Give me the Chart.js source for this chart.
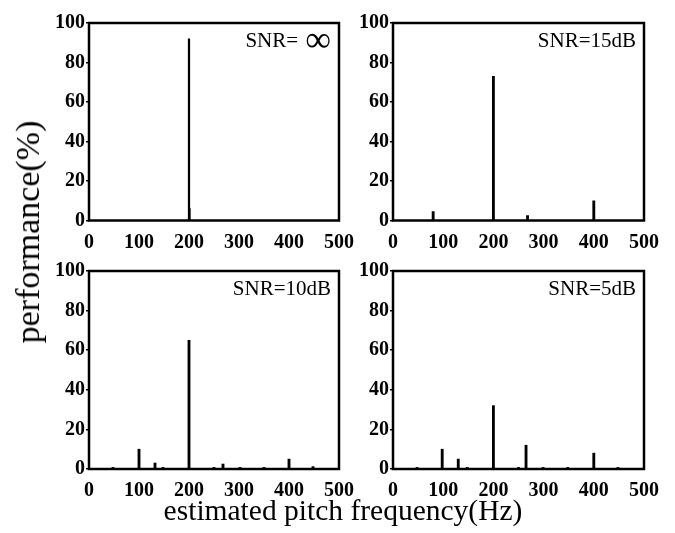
<!DOCTYPE html>
<html>
<head>
<meta charset="utf-8">
<script src="https://cdn.jsdelivr.net/npm/chart.js@4/dist/chart.umd.min.js"></script>
<style>
  html, body { margin: 0; padding: 0; background: #fff; }
  body { width: 675px; height: 533px; position: relative; overflow: hidden; }
  .pane { position: absolute; }
  .lbl { position: absolute; font-family: "Liberation Serif", serif; color: #000; white-space: nowrap; line-height: 1; }
</style>
</head>
<body>
<div class="pane" style="left:45px;top:3px;"><canvas id="c1" width="315" height="245"></canvas></div>
<div class="pane" style="left:350px;top:3px;"><canvas id="c2" width="325" height="245"></canvas></div>
<div class="pane" style="left:45px;top:251px;"><canvas id="c3" width="315" height="245"></canvas></div>
<div class="pane" style="left:350px;top:251px;"><canvas id="c4" width="325" height="245"></canvas></div>
<div class="lbl" id="ylab" style="left:28px;top:232px;font-size:34px;transform:translate(-50%,-50%) rotate(-90deg);">performance(%)</div>
<div class="lbl" id="xlab" style="left:343px;top:496px;font-size:29.5px;transform:translateX(-50%);">estimated pitch frequency(Hz)</div>
<script>
// ---- data ----
const xTicks = [0, 100, 200, 300, 400, 500];
const yTicks = [0, 20, 40, 60, 80, 100];

const snrLabels = ["SNR= ", "SNR=15dB", "SNR=10dB", "SNR=5dB"];

const freqInf = [200, 201];
const perfInf = [92, 6];

const freq15 = [80, 200, 268, 400];
const perf15 = [4.5, 73, 2.5, 10];

const freq10 = [48, 100, 132, 148, 200, 250, 268, 302, 350, 400, 448];
const perf10 = [0.8, 10, 3, 0.8, 65, 0.8, 2.5, 0.8, 0.8, 5, 1.2];

const freq5 = [48, 98, 130, 148, 200, 250, 265, 299, 348, 400, 448];
const perf5 = [0.8, 10, 5, 0.8, 32, 0.8, 12, 0.8, 0.8, 8, 0.8];

// ---- chart building ----
const framePlugin = {
  id: 'frame',
  afterDraw(chart, args, opts) {
    const a = chart.chartArea, ctx = chart.ctx;
    ctx.save();
    ctx.strokeStyle = '#000';
    ctx.lineWidth = 2.5;
    ctx.strokeRect(a.left, a.top, a.right - a.left, a.bottom - a.top);
    ctx.fillStyle = '#000';
    ctx.textBaseline = 'alphabetic';
    ctx.textAlign = 'right';
    const xr = a.right - opts.dx, yb = a.top + opts.dy;
    if (opts.inf) {
      ctx.font = '36px "Liberation Serif"';
      const w = ctx.measureText('\u221E').width;
      ctx.fillText('\u221E', xr, yb + 4);
      ctx.font = '21px "Liberation Serif"';
      ctx.fillText(opts.text, xr - w - 2, yb);
    } else {
      ctx.font = '21px "Liberation Serif"';
      ctx.fillText(opts.text, xr, yb);
    }
    ctx.restore();
  }
};

function makeChart(id, xs, ys, label, yWidth, xHeight, padRight, thick, inf) {
  const pts = xs.map((x, i) => ({ x: x, y: ys[i] }));
  return new Chart(document.getElementById(id), {
    type: 'bar',
    data: { datasets: [{ data: pts, backgroundColor: '#000', borderWidth: 0, barThickness: thick }] },
    options: {
      responsive: false,
      animation: false,
      layout: { padding: { top: 20, right: padRight, left: 0, bottom: 0 } },
      plugins: {
        legend: { display: false },
        tooltip: { enabled: false },
        frame: { text: label, inf: inf, dx: 8, dy: 24 }
      },
      scales: {
        x: {
          type: 'linear', min: 0, max: 500, offset: false,
          afterBuildTicks: (s) => { s.ticks = xTicks.map(v => ({ value: v })); },
          ticks: { color: '#000', padding: 2, maxRotation: 0, autoSkip: false,
                   font: { family: '"Liberation Serif"', size: 20, weight: 'bold' } },
          grid: { display: false },
          border: { display: false },
          afterFit: (s) => { s.height = xHeight; }
        },
        y: {
          min: 0, max: 100,
          afterBuildTicks: (s) => { s.ticks = yTicks.map(v => ({ value: v })); },
          ticks: { color: '#000', padding: 1,
                   font: { family: '"Liberation Serif"', size: 20, weight: 'bold' } },
          grid: { display: true, drawOnChartArea: false, tickLength: 3, color: '#000', lineWidth: 1.5 },
          border: { display: false },
          afterFit: (s) => { s.width = yWidth; }
        }
      }
    },
    plugins: [framePlugin]
  });
}

makeChart('c1', freqInf, perfInf, snrLabels[0], 44, 27.5, 21, 1.6, true);
makeChart('c2', freq15, perf15, snrLabels[1], 43, 27.5, 31, 2.2, false);
makeChart('c3', freq10, perf10, snrLabels[2], 44, 27, 21, 2.2, false);
makeChart('c4', freq5, perf5, snrLabels[3], 43, 27, 31, 2.2, false);
</script>
</body>
</html>
